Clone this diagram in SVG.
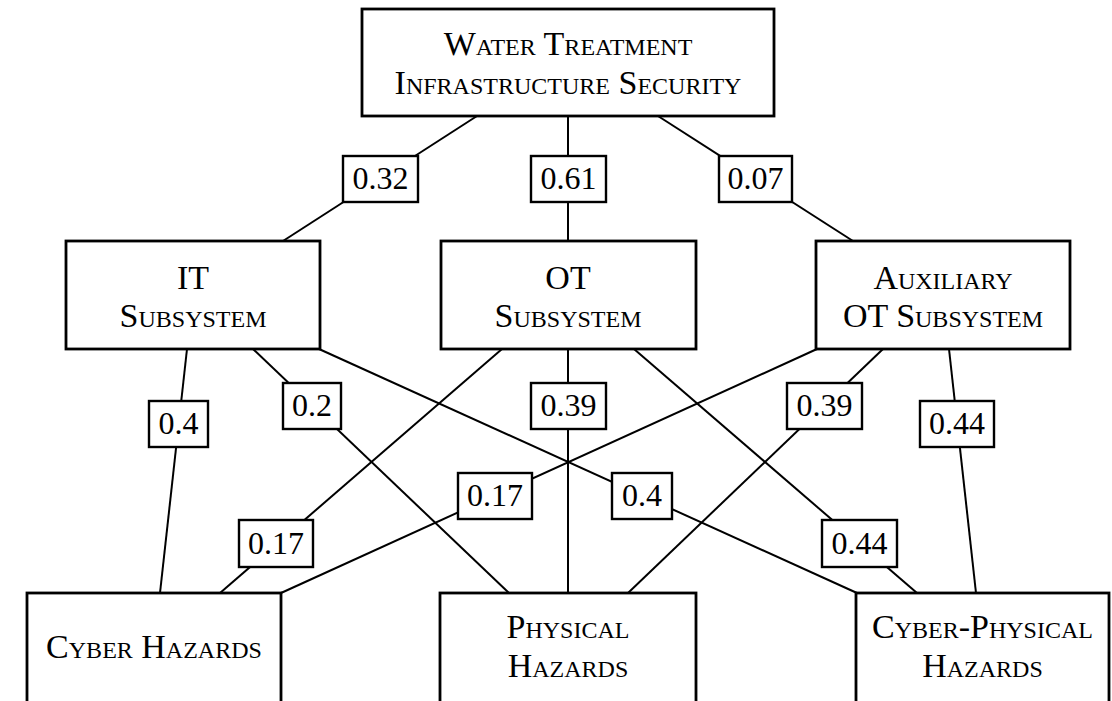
<svg xmlns="http://www.w3.org/2000/svg" width="1112" height="701" viewBox="0 0 1112 701">
<style>
.node{fill:#fff;stroke:#000;stroke-width:2.8}
.t{font-family:"Liberation Serif","DejaVu Serif",serif;font-size:34px;font-variant:small-caps;text-anchor:middle;fill:#000}
.edge{stroke:#000;stroke-width:2;fill:none}
.lb{fill:#fff;stroke:#000;stroke-width:2.4}
.lt{font-family:"Liberation Serif","DejaVu Serif",serif;font-size:32px;text-anchor:middle;fill:#000}
</style>
<rect width="1112" height="701" fill="#fff"/>
<g id="connectors">
<line class="edge" x1="477" y1="116" x2="283" y2="241"/>
<line class="edge" x1="568" y1="116" x2="568" y2="241"/>
<line class="edge" x1="658" y1="116" x2="853" y2="241"/>
<line class="edge" x1="187" y1="349" x2="160" y2="593"/>
<line class="edge" x1="253" y1="349" x2="509" y2="593"/>
<line class="edge" x1="319" y1="349" x2="857" y2="593"/>
<line class="edge" x1="502" y1="349" x2="220" y2="593"/>
<line class="edge" x1="568" y1="349" x2="568" y2="593"/>
<line class="edge" x1="634" y1="349" x2="917" y2="593"/>
<line class="edge" x1="817" y1="349" x2="281" y2="593"/>
<line class="edge" x1="883" y1="349" x2="628" y2="593"/>
<line class="edge" x1="949" y1="349" x2="976" y2="593"/>
<g id="edge-labels">
<rect class="lb" x="343" y="156" width="75" height="46"/><text class="lt" x="380.5" y="189">0.32</text>
<rect class="lb" x="531" y="156" width="75" height="46"/><text class="lt" x="568.5" y="189">0.61</text>
<rect class="lb" x="719" y="156" width="73" height="46"/><text class="lt" x="755.5" y="189">0.07</text>
<rect class="lb" x="149" y="401" width="59" height="46"/><text class="lt" x="178.5" y="434">0.4</text>
<rect class="lb" x="283" y="383" width="58" height="46"/><text class="lt" x="312" y="416">0.2</text>
<rect class="lb" x="531" y="383" width="75" height="46"/><text class="lt" x="568.5" y="416">0.39</text>
<rect class="lb" x="787" y="383" width="75" height="46"/><text class="lt" x="824.5" y="416">0.39</text>
<rect class="lb" x="920" y="401" width="74" height="46"/><text class="lt" x="957" y="434">0.44</text>
<rect class="lb" x="458" y="473" width="74" height="46"/><text class="lt" x="495" y="506">0.17</text>
<rect class="lb" x="612" y="473" width="60" height="46"/><text class="lt" x="642" y="506">0.4</text>
<rect class="lb" x="239" y="520" width="74" height="47"/><text class="lt" x="276" y="554">0.17</text>
<rect class="lb" x="822" y="520" width="75" height="47"/><text class="lt" x="859.5" y="554">0.44</text>
</g>
</g>
<g id="root">
<rect class="node" x="362" y="9" width="412" height="107"/>
<text class="t" x="568" y="55">Water Treatment</text>
<text class="t" x="568" y="94">Infrastructure Security</text>
</g>
<g id="it">
<rect class="node" x="66" y="241" width="254" height="108"/>
<text class="t" x="193" y="289">IT</text>
<text class="t" x="193" y="327">Subsystem</text>
</g>
<g id="ot">
<rect class="node" x="441" y="241" width="255" height="108"/>
<text class="t" x="568" y="289">OT</text>
<text class="t" x="568" y="327">Subsystem</text>
</g>
<g id="aux">
<rect class="node" x="816" y="241" width="254" height="108"/>
<text class="t" x="943" y="289">Auxiliary</text>
<text class="t" x="943" y="327">OT Subsystem</text>
</g>
<g id="cyber">
<rect class="node" x="27" y="593" width="254" height="115"/>
<text class="t" x="154" y="658">Cyber Hazards</text>
</g>
<g id="physical">
<rect class="node" x="440" y="593" width="256" height="115"/>
<text class="t" x="568" y="638">Physical</text>
<text class="t" x="568" y="677">Hazards</text>
</g>
<g id="cyberphysical">
<rect class="node" x="856" y="593" width="253" height="115"/>
<text class="t" x="982.5" y="638">Cyber-Physical</text>
<text class="t" x="982.5" y="677">Hazards</text>
</g>
</svg>
